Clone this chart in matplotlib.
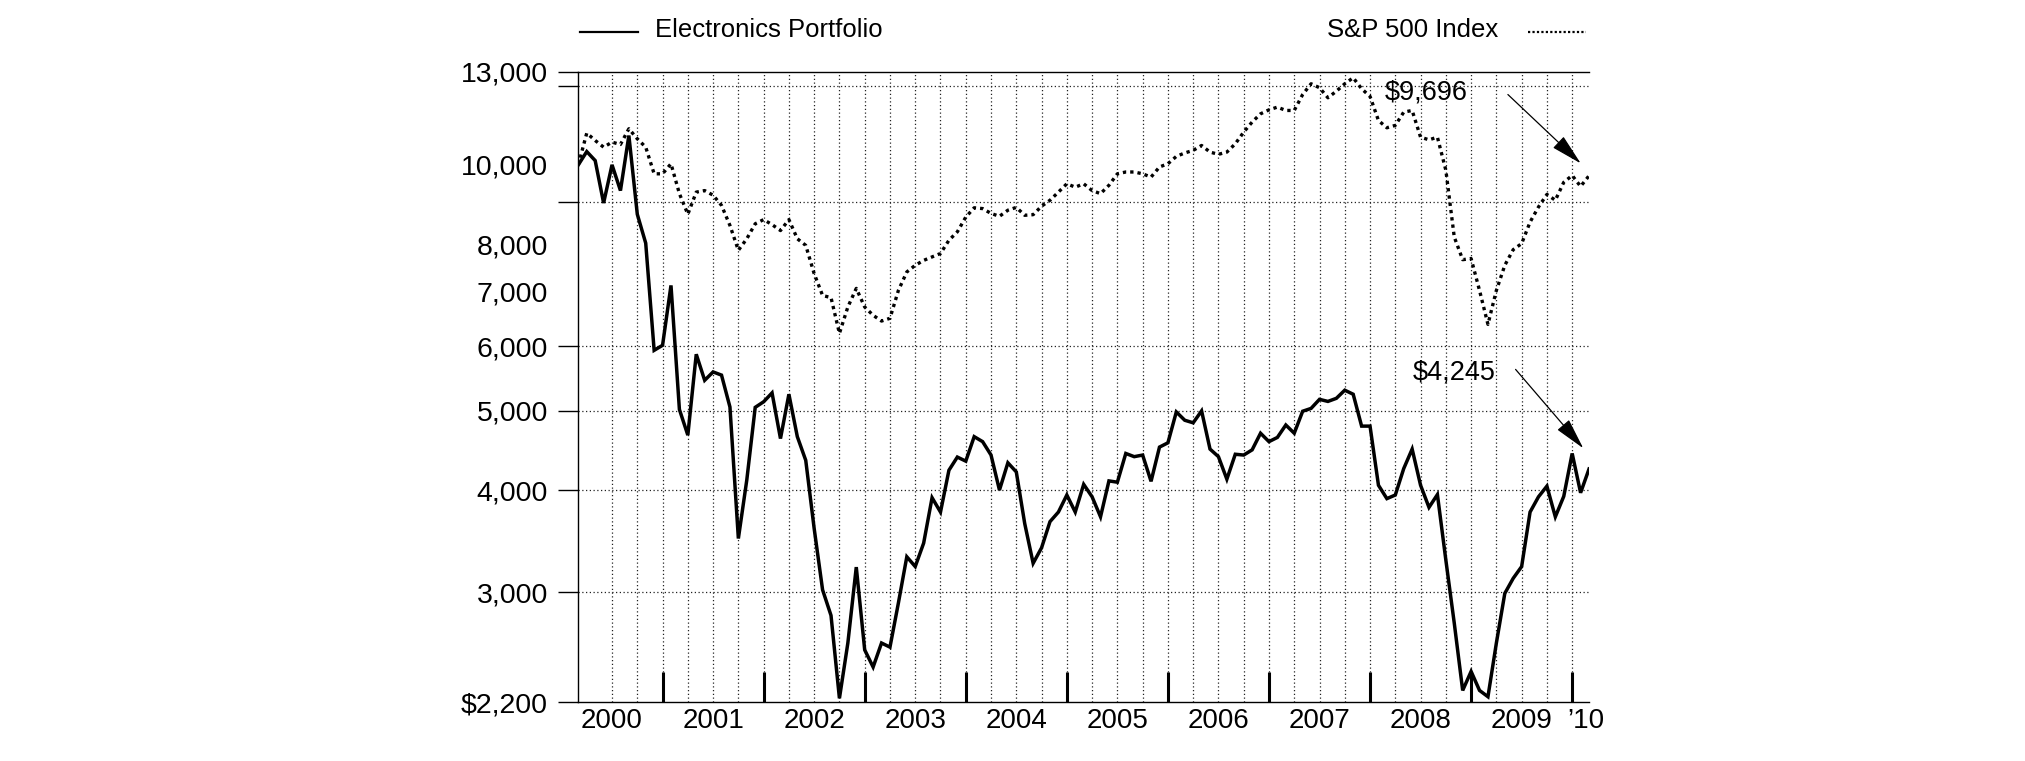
import numpy as np
import matplotlib
matplotlib.use("Agg")
import matplotlib.pyplot as plt
from matplotlib.lines import Line2D
from matplotlib.ticker import FixedLocator, NullFormatter, FixedFormatter

plt.rcParams['font.family'] = ['Liberation Sans', 'DejaVu Sans']

# growth of $10,000, month ends Feb 2000 .. Feb 2010
electronics = [
    10000, 10380, 10120, 8980, 10000, 9300, 10860, 8700, 8020, 5930,
    6015, 7120, 5020, 4670, 5865, 5450, 5580, 5530, 5055, 3490,
    4115, 5050, 5130, 5260, 4625, 5240, 4650, 4350, 3590, 3020,
    2810, 2225, 2600, 3220, 2550, 2430, 2600, 2570, 2910, 3315,
    3225, 3445, 3915, 3760, 4230, 4390, 4340, 4650, 4585, 4415,
    4000, 4320, 4210, 3640, 3255, 3400, 3660, 3760, 3945, 3760,
    4065, 3925, 3710, 4105, 4090, 4435, 4395, 4415, 4100, 4515,
    4570, 4985, 4870, 4835, 5000, 4490, 4395, 4125, 4425, 4415,
    4480, 4695, 4585, 4640, 4805, 4695, 4995, 5035, 5165, 5135,
    5180, 5300, 5240, 4790, 4790, 4055, 3905, 3945, 4250, 4490,
    4055, 3810, 3950, 3285, 2750, 2275, 2400, 2275, 2235, 2600,
    2990, 3120, 3225, 3760, 3925, 4045, 3710, 3930, 4435, 3970,
    4245]

sp500 = [
    10000, 10935, 10710, 10510, 10660, 10590, 11070, 10760, 10510, 9750,
    9750, 10030, 9220, 8700, 9260, 9300, 9180, 8920, 8430, 7860,
    8120, 8470, 8570, 8450, 8310, 8570, 8120, 7970, 7360, 6920,
    6880, 6220, 6700, 7060, 6700, 6545, 6440, 6490, 7020, 7395,
    7535, 7640, 7715, 7790, 8085, 8280, 8630, 8860, 8840, 8720,
    8650, 8800, 8870, 8675, 8690, 8900, 9050, 9260, 9480, 9390,
    9480, 9300, 9220, 9440, 9750, 9800, 9800, 9750, 9660, 9940,
    10030, 10240, 10340, 10415, 10560, 10365, 10300, 10365, 10610, 10965,
    11280, 11545, 11675, 11765, 11655, 11655, 12190, 12565, 12425, 12080,
    12305, 12565, 12780, 12390, 12125, 11330, 11100, 11175, 11600, 11655,
    10810, 10730, 10810, 9850, 8160, 7655, 7680, 7020, 6380, 7020,
    7535, 7875, 8010, 8510, 8880, 9200, 9050, 9520, 9705, 9410,
    9696]

y_labels = [2200, 3000, 4000, 5000, 6000, 7000, 8000, 10000, 13000]
y_label_text = ["$2,200", "3,000", "4,000", "5,000", "6,000", "7,000", "8,000", "10,000", "13,000"]
y_marks = [2200, 3000, 4000, 5000, 6000, 9000, 12500, 13000]
y_grid = [3000, 4000, 5000, 6000, 9000, 12500]
years = [2000, 2001, 2002, 2003, 2004, 2005, 2006, 2007, 2008, 2009]
year_text = ["2000", "2001", "2002", "2003", "2004", "2005", "2006", "2007", "2008", "2009", "\u201910"]

t = 2000 + 2 / 12 + np.arange(len(electronics)) / 12

fig = plt.figure(figsize=(20.25, 7.61), dpi=100)
ax = fig.add_axes([0.2856, 0.0771, 0.4991, 0.8287])

ax.set_yscale('log')
ax.set_xlim(t[0], t[-1])
ax.set_ylim(2200, 13000)

# grid
for q in np.arange(2000.5, 2010.01, 0.25):
    ax.axvline(q, color='#222222', lw=0.9, ls=(0, (1, 2)), zorder=1)
for g in y_grid:
    ax.axhline(g, color='#222222', lw=0.9, ls=(0, (1, 2)), zorder=1)

ax.plot(t, sp500, color='black', lw=2.4, ls=(0, (1, 1.2)), zorder=3)
ax.plot(t, electronics, color='black', lw=2.5, solid_joinstyle='miter', zorder=4)

# y axis: labels and tick marks sit at different values
ax.yaxis.set_major_locator(FixedLocator(y_labels))
ax.yaxis.set_major_formatter(FixedFormatter(y_label_text))
ax.yaxis.set_minor_locator(FixedLocator(y_marks))
ax.yaxis.set_minor_formatter(NullFormatter())
ax.yaxis.remove_overlapping_locs = False
ax.tick_params(axis='y', which='major', length=0, pad=22, labelsize=20.5)
ax.tick_params(axis='y', which='minor', length=14.5, width=1.0, direction='out')

# x axis: year boundaries as tall inner ticks, year names centred
ax.xaxis.set_major_locator(FixedLocator(np.arange(2001, 2011)))
ax.xaxis.set_major_formatter(NullFormatter())
ax.xaxis.set_minor_locator(FixedLocator([y + 0.5 for y in years] + [2010.14]))
ax.xaxis.set_minor_formatter(FixedFormatter(year_text))
ax.xaxis.remove_overlapping_locs = False
ax.tick_params(axis='x', which='major', direction='in', length=21.5, width=2.2)
ax.tick_params(axis='x', which='minor', length=0, pad=4, labelsize=20)

for s in ['left', 'bottom', 'top']:
    ax.spines[s].set_linewidth(1.0)
ax.spines['right'].set_visible(False)

# end value call-outs
arrow = dict(arrowstyle='-|>,head_length=0.9,head_width=0.22', color='black', lw=0.9,
             mutation_scale=22, shrinkA=0, shrinkB=0)
ax.annotate("", xy=(2010.085, 10040), xytext=(2009.364, 12190), arrowprops=arrow)
ax.text(2008.553, 12260, "$9,696", fontsize=19.5, ha='center', va='center')
ax.annotate("", xy=(2010.11, 4500), xytext=(2009.44, 5620), arrowprops=arrow)
ax.text(2008.83, 5575, "$4,245", fontsize=19.5, ha='center', va='center')

# legend across the top
fig.add_artist(Line2D([0.2864, 0.315], [0.958, 0.958], color='black', lw=1.6,
                      transform=fig.transFigure))
fig.text(0.3235, 0.961, "Electronics Portfolio", fontsize=18.5, ha='left', va='center')
fig.text(0.7398, 0.961, "S&P 500 Index", fontsize=18.5, ha='right', va='center')
fig.add_artist(Line2D([0.7546, 0.7832], [0.958, 0.958], color='black', lw=1.6,
                      ls=(0, (1, 1)), transform=fig.transFigure))

fig.savefig("out.png", dpi=100)
